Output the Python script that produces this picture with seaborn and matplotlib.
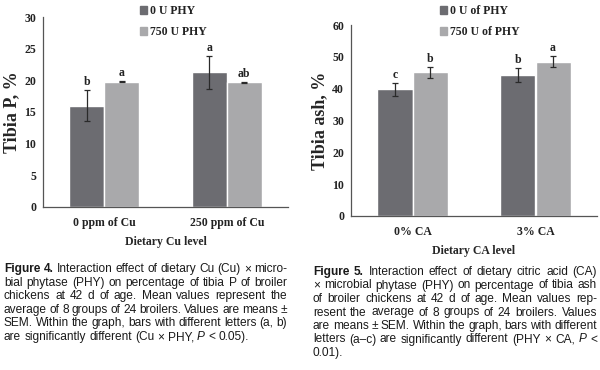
import matplotlib
matplotlib.use("Agg")
import matplotlib.pyplot as plt
import pandas as pd
import seaborn as sns

# Figure 4: tibia P
cu_levels = ["0 ppm of Cu", "250 ppm of Cu"]
phy4_labels = ["0 U PHY", "750 U PHY"]
tibia_p_0u = [16.0, 21.3]
tibia_p_750u = [19.8, 19.7]
tibia_p_sem_0u = [2.5, 2.6]
tibia_p_sem_750u = [0.12, 0.1]
tibia_p_letters_0u = ["b", "a"]
tibia_p_letters_750u = ["a", "ab"]

# Figure 5: tibia ash
ca_levels = ["0% CA", "3% CA"]
phy5_labels = ["0 U of PHY", "750 U of PHY"]
tibia_ash_0u = [39.8, 44.2]
tibia_ash_750u = [45.2, 48.5]
tibia_ash_sem_0u = [2.0, 2.2]
tibia_ash_sem_750u = [1.7, 1.7]
tibia_ash_letters_0u = ["c", "b"]
tibia_ash_letters_750u = ["b", "a"]

# "**" marks a bold word, "_" an italic one
caption4 = [
    "**Figure **4. Interaction effect of dietary Cu (Cu) \u00d7 micro-",
    "bial phytase (PHY) on percentage of tibia P of broiler",
    "chickens at 42 d of age. Mean values represent the",
    "average of 8 groups of 24 broilers. Values are means \u00b1",
    "SEM. Within the graph, bars with different letters (a, b)",
    "are significantly different (Cu \u00d7 PHY, _P < 0.05).",
]
caption5 = [
    "**Figure **5. Interaction effect of dietary citric acid (CA)",
    "\u00d7 microbial phytase (PHY) on percentage of tibia ash",
    "of broiler chickens at 42 d of age. Mean values rep-",
    "resent the average of 8 groups of 24 broilers. Values",
    "are means \u00b1 SEM. Within the graph, bars with different",
    "letters (a\u2013c) are significantly different (PHY \u00d7 CA, _P <",
    "0.01).",
]

DARK = "#6c6c71"
LIGHT = "#a9a9ab"
SERIF = "Liberation Serif"
SANS = "Liberation Sans"


def bar_panel(ax, levels, labels, v0, v1, e0, e1, l0, l1, ymax, step, ylabel, xlabel):
    df = pd.DataFrame({
        "level": levels * 2,
        "phy": [labels[0]] * len(levels) + [labels[1]] * len(levels),
        "value": v0 + v1,
    })
    sns.barplot(data=df, x="level", y="value", hue="phy", palette=[DARK, LIGHT],
                width=0.57, errorbar=None, ax=ax, legend=False, saturation=1)
    for cont, errs, letters in zip(ax.containers, [e0, e1], [l0, l1]):
        for bar, err, lt in zip(cont, errs, letters):
            xc = bar.get_x() + bar.get_width() / 2
            h = bar.get_height()
            ax.errorbar(xc, h, yerr=err, fmt="none", ecolor="#2a2a2a",
                        elinewidth=0.9, capsize=2.2, capthick=0.9)
            ax.annotate(lt, (xc, h + err), xytext=(0, 1.5), textcoords="offset points",
                        ha="center", va="bottom", fontsize=8.5, fontweight="bold",
                        family=SERIF, color="#222222")
    ax.set_xlim(-0.5, 1.5)
    ax.set_ylim(0, ymax)
    ax.set_yticks(range(0, ymax + 1, step))
    ax.set_ylabel(ylabel, fontsize=13, fontweight="bold", family=SERIF, labelpad=3)
    ax.set_xlabel(xlabel, fontsize=8.5, fontweight="bold", family=SERIF, labelpad=5)
    for spine in ["top", "right"]:
        ax.spines[spine].set_visible(False)
    for spine in ["left", "bottom"]:
        ax.spines[spine].set_color("#555555")
        ax.spines[spine].set_linewidth(0.9)
    ax.tick_params(axis="x", length=0, pad=7)
    ax.tick_params(axis="y", length=3, width=0.8, color="#555555", pad=2)
    for t in ax.get_xticklabels() + ax.get_yticklabels():
        t.set_fontfamily(SERIF)
        t.set_fontweight("bold")
        t.set_fontsize(8.5)
        t.set_color("#222222")


def text_width(fig, renderer, s, size, weight="normal", style="normal"):
    t = fig.text(0, 0, s, fontsize=size, family=SANS, fontweight=weight, fontstyle=style)
    w = t.get_window_extent(renderer).width
    t.remove()
    return w


def parse(line):
    words = []
    for w in line.split(" "):
        weight, style = "normal", "normal"
        if w.startswith("**"):
            weight, w = "bold", w[2:]
        if w.startswith("_"):
            style, w = "italic", w[1:]
        words.append((w, weight, style))
    return words


def justified(fig, lines, x0, x1, y_first, line_h, size):
    """Place caption lines word by word, justified between x0 and x1 (pixels)."""
    renderer = fig.canvas.get_renderer()
    W, H = fig.bbox.width, fig.bbox.height
    # shrink the font until every line fits with a reasonable word gap
    while size > 6:
        sp = text_width(fig, renderer, "a a", size) - text_width(fig, renderer, "aa", size)
        ok = True
        for line in lines[:-1]:
            words = parse(line)
            total = sum(text_width(fig, renderer, *w[:1], size, w[1], w[2]) for w in words)
            if total + 0.8 * sp * (len(words) - 1) > x1 - x0:
                ok = False
                break
        if ok:
            break
        size -= 0.1
    sp = text_width(fig, renderer, "a a", size) - text_width(fig, renderer, "aa", size)
    for i, line in enumerate(lines):
        words = parse(line)
        y = 1 - (y_first + i * line_h) / H
        texts, widths = [], []
        for w, weight, style in words:
            t = fig.text(0, y, w, fontsize=size, family=SANS, fontweight=weight,
                         fontstyle=style, va="baseline", ha="left", color="#1a1a1a")
            texts.append(t)
            widths.append(t.get_window_extent(renderer).width)
        if i == len(lines) - 1 or len(words) < 2:
            gap = sp
        else:
            gap = (x1 - x0 - sum(widths)) / (len(words) - 1)
        x = x0
        for t, w in zip(texts, widths):
            t.set_x(x / W)
            x += w + gap


sns.set_theme(style="white")
plt.rcParams["font.family"] = [SERIF, "DejaVu Serif"]

fig = plt.figure(figsize=(6, 3.7), dpi=100)
ax1 = fig.add_axes([43 / 600, 1 - 207 / 370, 245 / 600, 190 / 370])
ax2 = fig.add_axes([351 / 600, 1 - 216 / 370, 246 / 600, 191 / 370])

bar_panel(ax1, cu_levels, phy4_labels, tibia_p_0u, tibia_p_750u, tibia_p_sem_0u,
          tibia_p_sem_750u, tibia_p_letters_0u, tibia_p_letters_750u, 30, 5,
          "Tibia P, %", "Dietary Cu level")
bar_panel(ax2, ca_levels, phy5_labels, tibia_ash_0u, tibia_ash_750u, tibia_ash_sem_0u,
          tibia_ash_sem_750u, tibia_ash_letters_0u, tibia_ash_letters_750u, 60, 10,
          "Tibia ash, %", "Dietary CA level")

for labels, xpos in [(phy4_labels, 129 / 600), (phy5_labels, 429 / 600)]:
    handles = [plt.Rectangle((0, 0), 1, 1, color=c) for c in [DARK, LIGHT]]
    leg = fig.legend(handles, labels, loc="upper left", bbox_to_anchor=(xpos, 1.015),
                     frameon=False, handlelength=0.65, handleheight=0.65,
                     handletextpad=0.25, labelspacing=0.75,
                     prop={"family": SERIF, "weight": "bold", "size": 8.5})
    for t in leg.get_texts():
        t.set_color("#222222")

fig.canvas.draw()
justified(fig, caption4, 4, 287, 272, 13.6, 8.6)
justified(fig, caption5, 313, 597, 275, 13.5, 8.6)

fig.savefig("out.png", dpi=100)
